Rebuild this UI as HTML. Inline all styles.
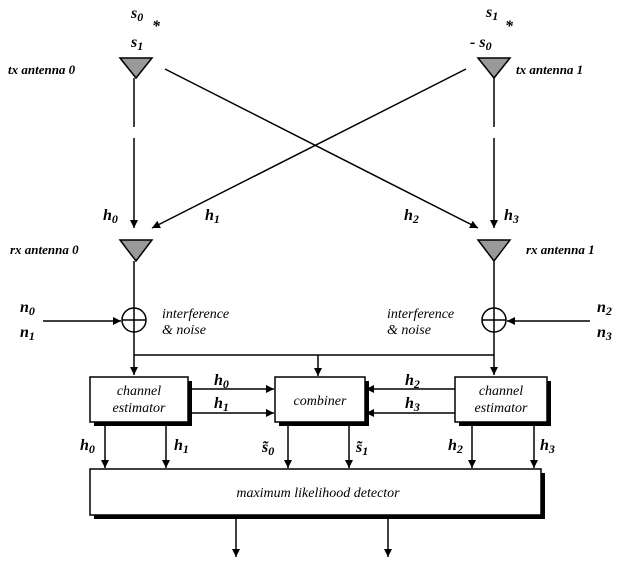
<!DOCTYPE html>
<html><head><style>
body{margin:0;background:#fff;}
svg{display:block;}
text{font-family:"Liberation Serif",serif;font-style:italic;fill:#000;}
.b{font-weight:bold;font-size:16px;}
.l{font-weight:bold;font-size:13px;}
.s{font-size:14px;}
</style></head><body>
<svg width="639" height="565" viewBox="0 0 639 565" xmlns="http://www.w3.org/2000/svg">
<defs>
<marker id="a" viewBox="0 0 10 10" refX="10" refY="5" markerWidth="8" markerHeight="8" orient="auto" markerUnits="userSpaceOnUse"><path d="M0,0L10,5L0,10z" fill="#000"/></marker>
</defs>
<g stroke="#000" stroke-width="1.5" fill="none">
<path d="M120,58H152L136,78Z" fill="#999"/>
<path d="M478,58H510L494,78Z" fill="#999"/>
<path d="M120,240H152L136,261Z" fill="#999"/>
<path d="M478,240H510L494,261Z" fill="#999"/>
<line x1="134" y1="78" x2="134" y2="127"/>
<line x1="134" y1="138" x2="134" y2="228" marker-end="url(#a)"/>
<line x1="494" y1="78" x2="494" y2="127"/>
<line x1="494" y1="138" x2="494" y2="228" marker-end="url(#a)"/>
<line x1="165" y1="69" x2="478" y2="228" marker-end="url(#a)"/>
<line x1="466" y1="69" x2="152" y2="228" marker-end="url(#a)"/>
<line x1="134" y1="261" x2="134" y2="375" marker-end="url(#a)"/>
<line x1="494" y1="261" x2="494" y2="375" marker-end="url(#a)"/>
<circle cx="134" cy="320" r="12"/><line x1="122" y1="320" x2="146" y2="320"/>
<circle cx="494" cy="320" r="12"/><line x1="482" y1="320" x2="506" y2="320"/>
<line x1="43" y1="321" x2="121" y2="321" marker-end="url(#a)"/>
<line x1="590" y1="321" x2="507" y2="321" marker-end="url(#a)"/>
<line x1="134" y1="355" x2="494" y2="355"/>
<line x1="318" y1="355" x2="318" y2="376" marker-end="url(#a)"/>
<rect x="94" y="381" width="98" height="45" fill="#000" stroke="none"/>
<rect x="279" y="381" width="90" height="45" fill="#000" stroke="none"/>
<rect x="459" y="381" width="92" height="45" fill="#000" stroke="none"/>
<rect x="94" y="473" width="451" height="46" fill="#000" stroke="none"/>
<rect x="90" y="377" width="98" height="45" fill="#fff"/>
<rect x="275" y="377" width="90" height="45" fill="#fff"/>
<rect x="455" y="377" width="92" height="45" fill="#fff"/>
<rect x="90" y="469" width="451" height="46" fill="#fff"/>
<line x1="188" y1="389" x2="274" y2="389" marker-end="url(#a)"/>
<line x1="188" y1="413" x2="274" y2="413" marker-end="url(#a)"/>
<line x1="455" y1="389" x2="366" y2="389" marker-end="url(#a)"/>
<line x1="455" y1="413" x2="366" y2="413" marker-end="url(#a)"/>
<line x1="105" y1="422" x2="105" y2="468" marker-end="url(#a)"/>
<line x1="166" y1="422" x2="166" y2="468" marker-end="url(#a)"/>
<line x1="288" y1="422" x2="288" y2="468" marker-end="url(#a)"/>
<line x1="349" y1="422" x2="349" y2="468" marker-end="url(#a)"/>
<line x1="472" y1="426" x2="472" y2="468" marker-end="url(#a)"/>
<line x1="534" y1="426" x2="534" y2="468" marker-end="url(#a)"/>
<line x1="236" y1="519" x2="236" y2="557" marker-end="url(#a)"/>
<line x1="388" y1="519" x2="388" y2="557" marker-end="url(#a)"/>
</g>
<text class="b" x="131" y="18">s<tspan font-size="12" dy="3">0</tspan></text>
<text class="b" x="152" y="31">*</text>
<text class="b" x="131" y="47">s<tspan font-size="12" dy="3">1</tspan></text>
<text class="l" x="8" y="74">tx antenna 0</text>
<text class="b" x="486" y="17">s<tspan font-size="12" dy="3">1</tspan></text>
<text class="b" x="505" y="31">*</text>
<text class="b" x="470" y="47">- s<tspan font-size="12" dy="3">0</tspan></text>
<text class="l" x="516" y="74">tx antenna 1</text>
<text class="b" x="103" y="220">h<tspan font-size="12" dy="3">0</tspan></text>
<text class="b" x="205" y="220">h<tspan font-size="12" dy="3">1</tspan></text>
<text class="b" x="404" y="220">h<tspan font-size="12" dy="3">2</tspan></text>
<text class="b" x="504" y="220">h<tspan font-size="12" dy="3">3</tspan></text>
<text class="l" x="10" y="254">rx antenna 0</text>
<text class="l" x="526" y="254">rx antenna 1</text>
<text class="b" x="20" y="312">n<tspan font-size="12" dy="3">0</tspan></text>
<text class="b" x="20" y="337">n<tspan font-size="12" dy="3">1</tspan></text>
<text class="b" x="597" y="312">n<tspan font-size="12" dy="3">2</tspan></text>
<text class="b" x="597" y="337">n<tspan font-size="12" dy="3">3</tspan></text>
<text class="s" x="162" y="318">interference</text>
<text class="s" x="162" y="334">&amp; noise</text>
<text class="s" x="387" y="318">interference</text>
<text class="s" x="387" y="334">&amp; noise</text>
<text class="s" x="139" y="395" text-anchor="middle">channel</text>
<text class="s" x="139" y="412" text-anchor="middle">estimator</text>
<text class="s" x="320" y="405" text-anchor="middle">combiner</text>
<text class="s" x="501" y="395" text-anchor="middle">channel</text>
<text class="s" x="501" y="412" text-anchor="middle">estimator</text>
<text class="b" x="214" y="385">h<tspan font-size="12" dy="3">0</tspan></text>
<text class="b" x="214" y="408">h<tspan font-size="12" dy="3">1</tspan></text>
<text class="b" x="405" y="385">h<tspan font-size="12" dy="3">2</tspan></text>
<text class="b" x="405" y="408">h<tspan font-size="12" dy="3">3</tspan></text>
<text class="b" x="80" y="450">h<tspan font-size="12" dy="3">0</tspan></text>
<text class="b" x="174" y="450">h<tspan font-size="12" dy="3">1</tspan></text>
<text class="b" x="262" y="452">s&#771;<tspan font-size="12" dy="3">0</tspan></text>
<text class="b" x="356" y="452">s&#771;<tspan font-size="12" dy="3">1</tspan></text>
<text class="b" x="448" y="450">h<tspan font-size="12" dy="3">2</tspan></text>
<text class="b" x="540" y="450">h<tspan font-size="12" dy="3">3</tspan></text>
<text class="s" x="318" y="497" text-anchor="middle">maximum likelihood detector</text>
</svg>
</body></html>
